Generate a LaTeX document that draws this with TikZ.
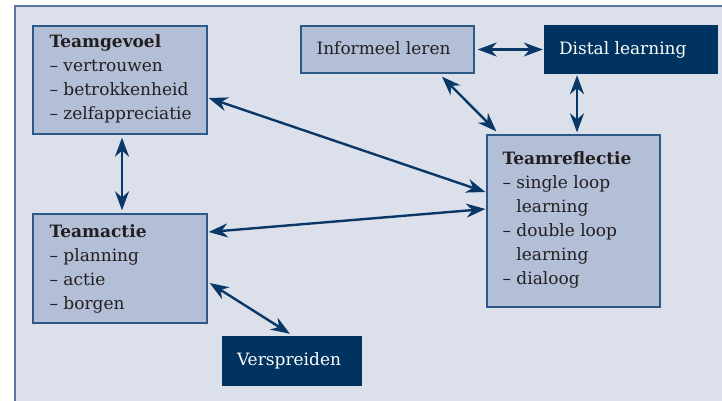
\documentclass[tikz,border=0pt]{standalone}
\usepackage{fontspec}
\setmainfont{DejaVu Serif}
\usetikzlibrary{arrows.meta,calc}
\definecolor{framefill}{HTML}{DCE0EB}
\definecolor{framedraw}{HTML}{5878A0}
\definecolor{boxfill}{HTML}{B3BFD7}
\definecolor{boxdraw}{HTML}{2C5887}
\definecolor{navy}{HTML}{00335F}
\definecolor{arrowc}{HTML}{0A3866}
\definecolor{txt}{HTML}{231F20}
\tikzset{
  lightbox/.style={draw=boxdraw, fill=boxfill, line width=1.3pt, inner sep=0pt},
  darkbox/.style={fill=navy, inner sep=0pt},
  boxtext/.style={anchor=base west, inner sep=0pt, text=txt, font=\fontsize{17}{24}\selectfont},
  whitetext/.style={boxtext, text=white},
  biarrow/.style={draw=arrowc, line width=2.4pt,
    {Stealth[length=19pt,width=14pt,inset=6pt]}-{Stealth[length=19pt,width=14pt,inset=6pt]}}
}
\begin{document}
\begin{tikzpicture}[x=1pt,y=-1pt]
\useasboundingbox (0,0) rectangle (722,400);
% frame
\fill[white] (0,0) rectangle (722,400);
\fill[framefill] (15,6) rectangle (730,410);
\draw[framedraw, line width=2pt] (15,410) -- (15,6) -- (730,6);

% boxes
\node[lightbox, minimum width=174pt, minimum height=108pt] (gevoel) at (120,80) {};
\node[lightbox, minimum width=174pt, minimum height=109pt] (actie) at (120,268.5) {};
\node[lightbox, minimum width=173pt, minimum height=47pt] (inform) at (387.5,49.5) {};
\node[darkbox, minimum width=174pt, minimum height=49pt] (distal) at (631,49.5) {};
\node[lightbox, minimum width=173pt, minimum height=172pt] (reflect) at (573.5,221) {};
\node[darkbox, minimum width=140pt, minimum height=50pt] (versp) at (292,361) {};

% texts
\node[boxtext] (gevoelT) at ($(gevoel.north west)+(17,22)$)
  {\begin{tabular}[t]{@{}l@{}}\textbf{Teamgevoel}\\– vertrouwen\\– betrokkenheid\\– zelfappreciatie\end{tabular}};
\node[boxtext] (actieT) at ($(actie.north west)+(17,24)$)
  {\begin{tabular}[t]{@{}l@{}}\textbf{Teamactie}\\– planning\\– actie\\– borgen\end{tabular}};
\node[boxtext] (reflectT) at ($(reflect.north west)+(16,30)$)
  {\begin{tabular}[t]{@{}l@{}}\textbf{Teamreflectie}\\– single loop\\\phantom{– }learning\\– double loop\\\phantom{– }learning\\– dialoog\end{tabular}};
\node[boxtext] (informT) at ($(inform.north west)+(16,29)$) {Informeel leren};
\node[whitetext] (distalT) at ($(distal.north west)+(15,30)$) {Distal learning};
\node[whitetext] (verspT) at ($(versp.north west)+(15,30)$) {Verspreiden};

% connectors
\draw[biarrow] ($(inform.east)+(3,0)$) -- ($(distal.west)+(-1,0)$);
\draw[biarrow] ($(reflect.north |- distal.south)+(3.5,1)$) -- ($(reflect.north)+(3.5,-2)$);
\draw[biarrow] ($(inform.south)+(54.5,3)$) -- ($(reflect.north west)+(10,-3)$);
\draw[biarrow] ($(gevoel.east)+(1,18)$) -- ($(reflect.west)+(-1,-29)$);
\draw[biarrow] ($(gevoel.south)+(2,3)$) -- ($(actie.north)+(2,-3)$);
\draw[biarrow] ($(actie.east)+(1,-36.5)$) -- ($(reflect.west)+(-1,-12)$);
\draw[biarrow] ($(actie.east)+(2,14.5)$) -- ($(versp.north)+(-2,-2)$);
\end{tikzpicture}
\end{document}
